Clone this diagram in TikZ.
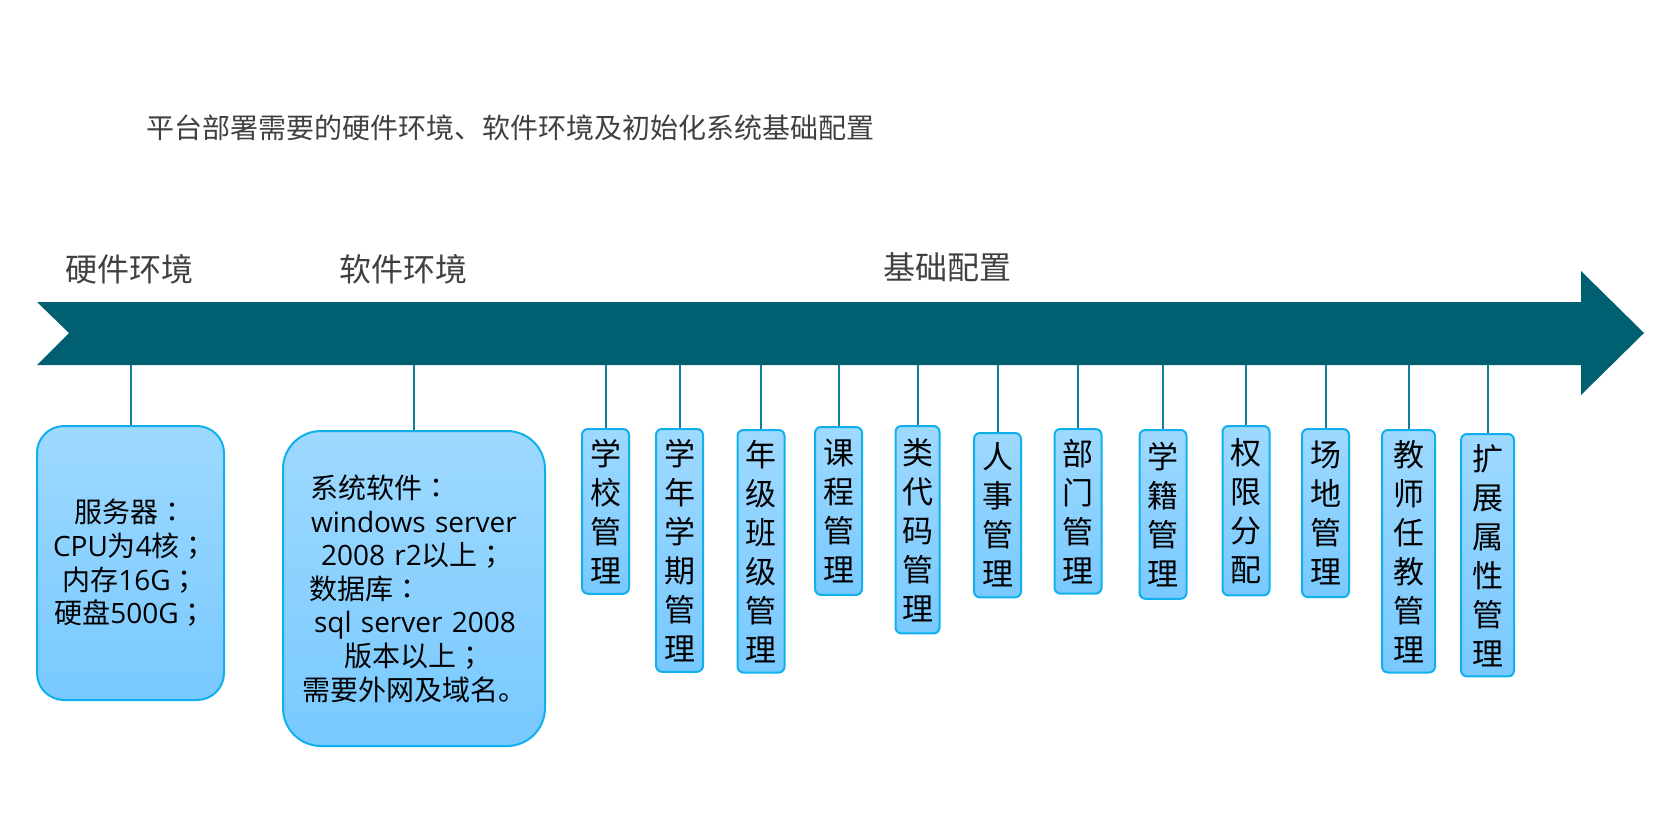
\documentclass[tikz,border=0pt]{standalone}
\usepackage{fontspec}
\setmainfont{Noto Sans CJK SC}
\newfontfamily\latinfont{Open Sans}
\newfontfamily\punctfont{Noto Sans CJK JP}
\newcommand{\lat}[1]{{\latinfont #1}}
\newcommand{\pc}[1]{{\punctfont #1}}
\usepackage{xcolor}
\usetikzlibrary{positioning}
\definecolor{axisteal}{RGB}{0,95,112}
\definecolor{stemteal}{RGB}{18,128,152}
\definecolor{boxtop}{RGB}{158,217,255}
\definecolor{boxbot}{RGB}{120,201,255}
\definecolor{boxline}{RGB}{16,176,236}
\definecolor{headgray}{RGB}{64,64,64}
\tikzstyle{titletext} = [text=headgray, inner sep=0pt, font=\fontsize{28}{34}\selectfont]
\tikzstyle{heading} = [text=headgray, inner sep=0pt, font=\fontsize{32}{38}\selectfont]
\tikzstyle{envbox} = [rectangle, draw=boxline, line width=2pt, top color=boxtop,
    bottom color=boxbot, align=center, font=\fontsize{28}{33.6}\selectfont]
\tikzstyle{modbox} = [rectangle, draw=boxline, line width=2pt, top color=boxtop,
    bottom color=boxbot, rounded corners=6pt, anchor=north, minimum width=47pt,
    inner xsep=0pt, inner ysep=10pt, align=center, font=\fontsize{31}{39}\selectfont]
\tikzstyle{stemline} = [draw=stemteal, line width=2pt]

\begin{document}
\begin{tikzpicture}[x=1pt, y=-1pt]
        \useasboundingbox (0,0) rectangle (1667,836);

        % Headings
        \node [titletext, anchor=west] (title) at (146,128) {平台部署需要的硬件环境、软件环境及初始化系统基础配置};
        \node [heading] (hwhead) at (129,269) {硬件环境};
        \node [heading] (swhead) at (403,269) {软件环境};
        \node [heading] (cfghead) at (947,267) {基础配置};

        % Timeline
        \fill [axisteal] (37,302) -- (1581,302) -- (1581,271) -- (1644,333)
            -- (1581,395) -- (1581,365) -- (37,365) -- (69,333) -- cycle;
        \coordinate (axis) at (0,365);

        % Nodes
        \node [envbox, minimum width=187pt, minimum height=274pt, rounded corners=27pt] (hw) at (130.5,563)
            {服务器\pc{：}\\\lat{CPU}为\lat{4}核\pc{；}\\内存\lat{16G}\pc{；}\\硬盘\lat{500G}\pc{；}};
        \node [envbox, minimum height=315pt, rounded corners=38pt, text width=230pt, inner xsep=16pt, align=left] (sw) at (414,588.5)
            {\hspace*{11pt}系统软件\pc{：}\\\hspace*{12pt}\lat{windows server}\\\hspace*{22pt}\lat{2008 r2}以上\pc{；}\\
             \hspace*{10pt}数据库\pc{：}\\\hspace*{15pt}\lat{sql server 2008}\\\hspace*{45pt}版本以上\pc{；}\\
             \hspace*{3pt}需要外网及域名。};

        \node [modbox] (school) at (605.5,428) {学\\校\\管\\理};
        \node [modbox] (term) at (679.5,428) {学\\年\\学\\期\\管\\理};
        \node [modbox] (grade) at (761,429) {年\\级\\班\\级\\管\\理};
        \node [modbox, inner ysep=12pt] (course) at (838.5,426) {课\\程\\管\\理};
        \node [modbox, minimum width=44pt, inner ysep=12pt] (code) at (917.5,425) {类\\代\\码\\管\\理};
        \node [modbox] (staff) at (997.5,432) {人\\事\\管\\理};
        \node [modbox] (dept) at (1078,428) {部\\门\\管\\理};
        \node [modbox, inner ysep=12pt] (roll) at (1163,429) {学\\籍\\管\\理};
        \node [modbox, inner ysep=12pt] (perm) at (1246,425) {权\\限\\分\\配};
        \node [modbox, inner ysep=12pt] (site) at (1325.5,428) {场\\地\\管\\理};
        \node [modbox, minimum width=53pt] (teach) at (1408.5,429) {教\\师\\任\\教\\管\\理};
        \node [modbox, minimum width=53pt] (attr) at (1487.5,433) {扩\\展\\属\\性\\管\\理};

        % Lines
        \path [stemline] (hw.north) -- (hw.north |- axis);
        \path [stemline] (sw.north) -- (sw.north |- axis);
        \path [stemline] (school.north) -- (school.north |- axis);
        \path [stemline] (term.north) -- (term.north |- axis);
        \path [stemline] (grade.north) -- (grade.north |- axis);
        \path [stemline] (course.north) -- (course.north |- axis);
        \path [stemline] (code.north) -- (code.north |- axis);
        \path [stemline] (staff.north) -- (staff.north |- axis);
        \path [stemline] (dept.north) -- (dept.north |- axis);
        \path [stemline] (roll.north) -- (roll.north |- axis);
        \path [stemline] (perm.north) -- (perm.north |- axis);
        \path [stemline] (site.north) -- (site.north |- axis);
        \path [stemline] (teach.north) -- (teach.north |- axis);
        \path [stemline] (attr.north) -- (attr.north |- axis);
    \end{tikzpicture}
\end{document}
